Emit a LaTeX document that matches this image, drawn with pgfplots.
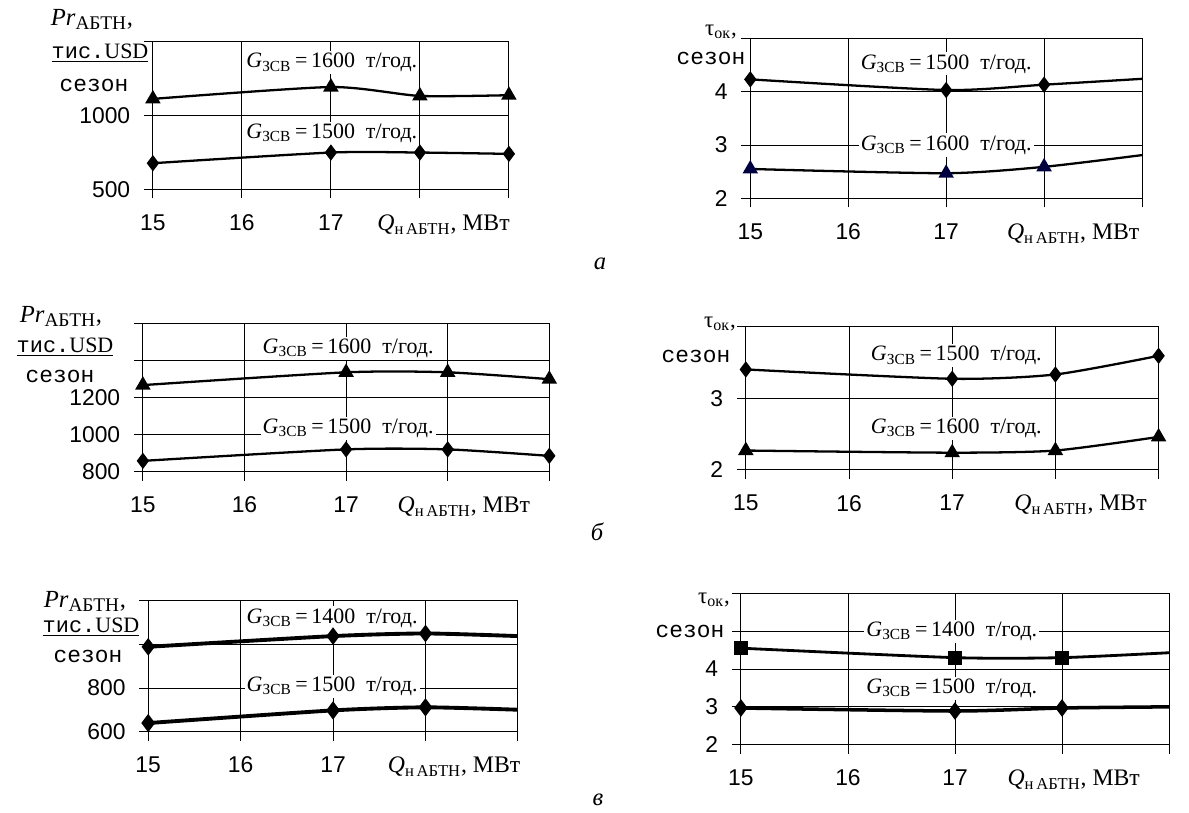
\documentclass[border=0pt]{standalone}
\usepackage{fontspec}
\setmainfont{Liberation Serif}
\newfontfamily\arial{Liberation Sans}
\newfontfamily\cour{Liberation Mono}
\usepackage{pgfplots}
\pgfplotsset{compat=1.18}

\newcommand{\Gl}[1]{\textit{G}\textsubscript{ЗСВ}\,=\,#1~~т/год.}
\newcommand{\Ql}[1]{\rlap{\hspace*{#1}\rmfamily\fontsize{13.5}{15}\selectfont\textit{Q}\textsubscript{н\,АБТН}, МВт}}
\newcommand{\Prl}{\fontsize{14}{16}\selectfont\textit{Pr}\textsubscript{\fontsize{11}{12}\selectfont АБТН},}
\newcommand{\Usd}{\fontsize{12.5}{14}\selectfont\underline{{\cour тис.}USD}}
\newcommand{\Sez}{\fontsize{13}{15}\selectfont\cour сезон}
\newcommand{\Tau}{\fontsize{13}{15}\selectfont τ\textsubscript{ок},}

\tikzset{ann/.style={fill=white, inner sep=1.2pt, font=\fontsize{12.5}{14}\selectfont}}

\pgfplotsset{
  panel/.style={
    scale only axis, anchor=south west, clip=false,
    xmin=15, xmax=19, xtick={15,16,17,18,19},
    grid=major, grid style={black, line width=0.5pt},
    axis line style={black, line width=0.5pt},
    tick style={black, line width=0.5pt},
    tick align=outside, major tick length=0.18cm,
    xtick pos=left, ytick pos=left,
    tick label style={font=\fontsize{13}{15}\selectfont\arial},
    xticklabel style={yshift=-0.2cm},
    yticklabel style={xshift=-0.15cm},
  },
  curve/.style={black, line width=1.3pt, smooth, tension=0.4, mark options={solid}},
}

\begin{document}
\begin{tikzpicture}
\path[use as bounding box] (0,0) rectangle (23.78,-16.26);

% ---------- a, left ----------
\begin{axis}[panel, at={(3.058cm,-3.786cm)}, width=7.12cm, height=2.964cm,
  ymin=500, ymax=1500, ytick={500,1000,1500}, yticklabels={500,1000,{}},
  xticklabels={15,16,17,{\Ql{-0.85cm}},{}}]
\addplot[curve, mark=triangle*, mark size=3.8pt] coordinates {(15,1110) (17,1190) (18,1130) (19,1135)};
\addplot[curve, mark=diamond*, mark size=3.6pt] coordinates {(15,676) (17,748) (18,748) (19,739)};
\node[ann] at (axis cs:17.01,1354) {\Gl{1600}};
\node[ann] at (axis cs:17.01,878) {\Gl{1500}};
\end{axis}

% ---------- a, right ----------
\begin{axis}[panel, at={(15.006cm,-3.966cm)}, width=7.834cm, height=3.2cm,
  ymin=2, ymax=5, ytick={2,3,4,5}, yticklabels={2,3,4,{}},
  xticklabels={15,16,17,{\Ql{-0.74cm}},{}}]
\addplot[curve, mark=diamond*, mark size=3.6pt, mark indices={1,2,3}] coordinates {(15,4.23) (17,4.03) (18,4.13) (19,4.24)};
\addplot[curve, mark=triangle*, mark size=3.8pt, mark indices={1,2,3}, mark options={fill=blue!25!black, draw=blue!25!black}] coordinates {(15,2.55) (17,2.47) (18,2.59) (19,2.81)};
\node[ann] at (axis cs:17.0,4.52) {\Gl{1500}};
\node[ann] at (axis cs:17.0,3.0) {\Gl{1600}};
\end{axis}

% ---------- b, left ----------
\begin{axis}[panel, at={(2.858cm,-9.436cm)}, width=8.128cm, height=2.964cm,
  ymin=800, ymax=1600, ytick={800,1000,1200,1400,1600}, yticklabels={800,1000,1200,{},{}},
  xticklabels={15,16,17,{\Ql{-1.0cm}},{}}]
\addplot[curve, mark=triangle*, mark size=3.8pt] coordinates {(15,1268) (17,1337) (18,1337) (19,1300)};
\addplot[curve, mark=diamond*, mark size=3.6pt] coordinates {(15,859) (17,921) (18,921) (19,886)};
\node[ann] at (axis cs:17.02,1465) {\Gl{1600}};
\node[ann] at (axis cs:17.02,1035) {\Gl{1500}};
\end{axis}

% ---------- b, right ----------
\begin{axis}[panel, at={(14.916cm,-9.398cm)}, width=8.256cm, height=2.87cm,
  ymin=2, ymax=4, ytick={2,3,4}, yticklabels={2,3,{}},
  xticklabels={15,16,17,{\Ql{-0.82cm}},{}}]
\addplot[curve, mark=diamond*, mark size=3.6pt] coordinates {(15,3.40) (17,3.27) (18,3.33) (19,3.59)};
\addplot[curve, mark=triangle*, mark size=3.8pt] coordinates {(15,2.27) (17,2.24) (18,2.27) (19,2.46)};
\node[ann] at (axis cs:17.04,3.59) {\Gl{1500}};
\node[ann] at (axis cs:17.04,2.58) {\Gl{1600}};
\end{axis}

% ---------- v, left ----------
\begin{axis}[panel, at={(2.964cm,-14.636cm)}, width=7.394cm, height=2.622cm,
  ymin=600, ymax=1200, ytick={600,800,1000,1200}, yticklabels={600,800,{},{}},
  xticklabels={15,16,17,{\Ql{-0.75cm}},{}}]
\addplot[curve, line width=2.2pt, mark=diamond*, mark size=3.2pt, mark indices={1,2,3}] coordinates {(15,989) (17,1038) (18,1050) (19,1038)};
\addplot[curve, line width=2.2pt, mark=diamond*, mark size=3.4pt, mark indices={1,2,3}] coordinates {(15,640) (17,698) (18,712) (19,701)};
\node[ann] at (axis cs:16.99,1121) {\Gl{1400}};
\node[ann] at (axis cs:16.99,808) {\Gl{1500}};
\end{axis}

% ---------- v, right ----------
\begin{axis}[panel, at={(14.818cm,-14.894cm)}, width=8.564cm, height=3.028cm,
  ymin=2, ymax=6, ytick={2,3,4,5,6}, yticklabels={2,3,4,{},{}},
  xticklabels={15,16,17,{\Ql{-1.09cm}},{}}]
\addplot[curve, line width=1.6pt, mark=square*, mark size=3.2pt, mark indices={1,2,3}] coordinates {(15,4.55) (17,4.30) (18,4.30) (19,4.43)};
\addplot[curve, line width=2.0pt, mark=diamond*, mark size=3.4pt, mark indices={1,2,3}] coordinates {(15,2.97) (17,2.89) (18,2.97) (19,3.0)};
\node[ann] at (axis cs:16.97,5.0) {\Gl{1400}};
\node[ann] at (axis cs:16.97,3.49) {\Gl{1500}};
\end{axis}

% ---------- axis titles ----------
\node at (1.84,-0.38) {\Prl};
\node at (2.0,-1.06) {\Usd};
\node at (1.88,-1.70) {\Sez};
\node at (1.22,-6.32) {\Prl};
\node at (1.30,-6.94) {\Usd};
\node at (1.20,-7.52) {\Sez};
\node at (1.70,-12.02) {\Prl};
\node at (1.82,-12.55) {\Usd};
\node at (1.76,-13.12) {\Sez};
\node at (14.42,-0.64) {\Tau};
\node at (14.22,-1.16) {\Sez};
\node at (14.40,-6.48) {\Tau};
\node at (13.92,-7.12) {\Sez};
\node at (14.28,-12.0) {\Tau};
\node at (13.80,-12.62) {\Sez};

% ---------- captions ----------
\node[font=\fontsize{14}{16}\selectfont\itshape] at (12.0,-5.28) {a};
\node[font=\fontsize{14}{16}\selectfont\itshape] at (11.94,-10.64) {б};
\node[font=\fontsize{14}{16}\selectfont\itshape] at (11.96,-16.0) {в};
\end{tikzpicture}
\end{document}
